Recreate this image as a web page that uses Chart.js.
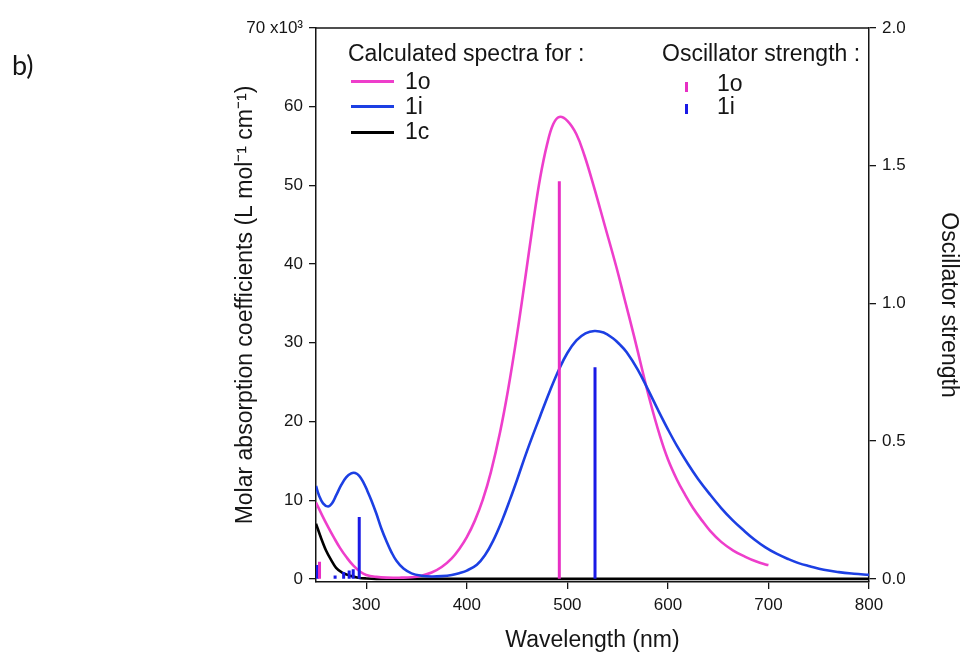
<!DOCTYPE html>
<html>
<head>
<meta charset="utf-8">
<script src="https://cdn.jsdelivr.net/npm/chart.js@4.4.0/dist/chart.umd.min.js"></script>
<style>
  body { margin: 0; background: #fff; font-family: 'Liberation Sans', Arial, sans-serif; }
  #wrap { position: relative; width: 964px; height: 655px; }
  .lbl { position: absolute; font-size: 23px; line-height: 23px; color: #151515; white-space: nowrap; }
  .swatch { position: absolute; width: 43px; height: 3px; }
  .bar { position: absolute; width: 3px; height: 10px; }
</style>
</head>
<body>
<div id="wrap">
  <canvas id="grafico" width="964" height="655"></canvas>

  <div class="lbl" style="left:12px;top:51px;font-family:Lato,sans-serif;font-size:27px;line-height:27px;">b)</div>

  <div class="lbl" style="left:348px;top:42px;">Calculated spectra for :</div>
  <div class="swatch" style="left:351px;top:80px;background:#ee3ecb;"></div>
  <div class="lbl" style="left:405px;top:70px;">1o</div>
  <div class="swatch" style="left:351px;top:105px;background:#1c3fe3;"></div>
  <div class="lbl" style="left:405px;top:95px;">1i</div>
  <div class="swatch" style="left:351px;top:131px;background:#000;"></div>
  <div class="lbl" style="left:405px;top:120px;">1c</div>

  <div class="lbl" style="left:662px;top:42px;">Oscillator strength :</div>
  <div class="bar" style="left:685px;top:82px;background:#e72fc4;"></div>
  <div class="lbl" style="left:717px;top:72px;">1o</div>
  <div class="bar" style="left:685px;top:104px;background:#1a1ae6;"></div>
  <div class="lbl" style="left:717px;top:94.5px;">1i</div>
</div>

<script>
// calculated spectra, wavelength in nm, epsilon in 10^3 L mol-1 cm-1
const wl1o = [250, 256, 262, 268, 274, 280, 287, 294, 300, 310, 320, 335, 345, 355, 365, 375, 385, 393, 400, 408,
              416, 424, 433, 441, 450, 458, 466, 473, 480, 486, 492, 500, 509, 517, 526, 537, 549, 557, 566, 574,
              582, 592, 600, 609, 617, 625, 634, 642, 653, 665, 677, 688, 698, 700];
const eps1o = [9.7, 8.1, 6.6, 5.2, 3.9, 2.8, 1.7, 0.9, 0.5, 0.25, 0.15, 0.15, 0.2, 0.4, 0.8, 1.5, 2.6, 3.9, 5.3, 7.4,
               10.1, 13.6, 18.6, 24.0, 31.1, 38.1, 45.3, 51.0, 55.3, 57.8, 58.7, 58.2, 56.5, 53.8, 50.0, 45.0, 39.5, 35.5, 31.0, 26.8,
               22.7, 18.2, 15.2, 12.6, 10.7, 9.0, 7.4, 6.1, 4.7, 3.6, 2.8, 2.2, 1.8, 1.75];

const wl1i = [250, 253, 257, 262, 266, 270, 275, 280, 285, 289, 293, 297, 301, 305, 310, 315, 320, 325, 330, 337,
              345, 355, 365, 375, 385, 393, 400, 410, 418, 426, 435, 443, 450, 460, 473, 483, 492, 500, 509, 518,
              527, 536, 545, 552, 559, 570, 580, 590, 600, 609, 620, 630, 642, 653, 664, 675, 686, 697, 708, 720,
              730, 741, 755, 770, 785, 800];
const eps1i = [11.8, 10.6, 9.6, 9.2, 9.6, 10.6, 11.9, 12.9, 13.4, 13.45, 13.1, 12.3, 11.2, 10.0, 8.3, 6.4, 4.8, 3.4, 2.3, 1.3,
               0.7, 0.4, 0.3, 0.35, 0.5, 0.75, 1.05, 1.8, 3.0, 4.8, 7.4, 10.1, 12.6, 16.3, 20.7, 24.0, 26.7, 28.7, 30.3, 31.2,
               31.5, 31.3, 30.6, 29.8, 28.8, 26.6, 24.1, 21.5, 19.0, 16.9, 14.6, 12.7, 10.7, 9.0, 7.5, 6.2, 5.0, 4.0, 3.2, 2.5,
               2.0, 1.6, 1.15, 0.85, 0.65, 0.5];

const wl1c = [250, 255, 260, 265, 270, 276, 284, 292, 300, 310, 800];
const eps1c = [7.0, 5.2, 3.6, 2.4, 1.4, 0.8, 0.4, 0.15, 0.05, 0, 0];

// oscillator strengths (sticks)
const stickWl1o = [253.5, 492];
const stickF1o = [0.062, 1.444];
const stickWl1i = [251.5, 269, 277.5, 283, 287, 293, 527.5];
const stickF1i = [0.05, 0.012, 0.025, 0.03, 0.035, 0.225, 0.768];

// tick labels
const xTicks = [300, 400, 500, 600, 700, 800];
const yTicks = [0, 10, 20, 30, 40, 50, 60, 70];
const y2Ticks = [0, 0.5, 1.0, 1.5, 2.0];

const pink = '#ee3ecb';
const blue = '#1c3fe3';
const ink = '#151515';

const toXY = (xs, ys) => xs.map((x, i) => ({ x: x, y: ys[i] }));
const toSticks = (xs, fs) => xs.flatMap((x, i) => [{ x: x, y: 0 }, { x: x, y: fs[i] }, { x: x, y: null }]);

const curva = (data, color, order, mode) => ({
    data: data, yAxisID: 'y', borderColor: color, borderWidth: 2.6,
    pointRadius: 0, tension: 0.4, cubicInterpolationMode: mode, fill: false, order: order
});
const palito = (data, color) => ({
    data: data, yAxisID: 'y2', borderColor: color, borderWidth: 3,
    pointRadius: 0, tension: 0, spanGaps: false, borderCapStyle: 'butt', fill: false, order: 0
});

const quadro = {
    id: 'quadro',
    afterDraw(chart) {
        const { ctx, chartArea } = chart;
        ctx.save();
        ctx.strokeStyle = ink;
        ctx.lineWidth = 1.5;
        ctx.beginPath();
        ctx.moveTo(chartArea.left, chartArea.top);
        ctx.lineTo(chartArea.right, chartArea.top);
        ctx.stroke();
        ctx.restore();
    }
};

const tickFont = { family: "'Liberation Sans', Arial, sans-serif", size: 17 };
const titleFont = { family: "'Liberation Sans', Arial, sans-serif", size: 23 };

new Chart(document.getElementById('grafico').getContext('2d'), {
    type: 'line',
    data: {
        datasets: [
            palito(toSticks(stickWl1o, stickF1o), '#e72fc4'),
            palito(toSticks(stickWl1i, stickF1i), '#1a1ae6'),
            curva(toXY(wl1c, eps1c), '#000', 3, 'monotone'),
            curva(toXY(wl1o, eps1o), pink, 2, 'default'),
            curva(toXY(wl1i, eps1i), blue, 1, 'default')
        ]
    },
    options: {
        responsive: false,
        animation: false,
        layout: { padding: { left: 228, top: 28, right: 0, bottom: 0 } },
        plugins: { legend: { display: false }, tooltip: { enabled: false } },
        scales: {
            x: {
                type: 'linear', position: 'bottom', min: 250, max: 800,
                afterBuildTicks: s => { s.ticks = xTicks.map(v => ({ value: v })); },
                afterFit: s => { s.height = 73; },
                ticks: { font: tickFont, color: ink, padding: 6, maxRotation: 0, callback: v => String(v) },
                grid: { drawOnChartArea: false, tickLength: 7, color: ink, lineWidth: 1.3 },
                border: { color: ink, width: 1.5 },
                title: { display: true, text: 'Wavelength (nm)', font: titleFont, color: ink, padding: { top: 0, bottom: 1 } }
            },
            y: {
                type: 'linear', position: 'left', min: -0.4, max: 70,
                afterBuildTicks: s => { s.ticks = yTicks.map(v => ({ value: v })); },
                afterFit: s => { s.width = 88; },
                ticks: { font: tickFont, color: ink, padding: 6, callback: v => v === 70 ? '70 x10³' : String(v) },
                grid: { drawOnChartArea: false, tickLength: 7, color: ink, lineWidth: 1.3 },
                border: { color: ink, width: 1.5 },
                title: { display: true, text: 'Molar absorption coefficients (L mol⁻¹ cm⁻¹)', font: titleFont, color: ink, padding: { top: 4, bottom: 0 } }
            },
            y2: {
                type: 'linear', position: 'right', min: -0.4 / 70 * 2, max: 2,
                afterBuildTicks: s => { s.ticks = y2Ticks.map(v => ({ value: v })); },
                afterFit: s => { s.width = 95; },
                ticks: { font: tickFont, color: ink, padding: 6, callback: v => v.toFixed(1) },
                grid: { drawOnChartArea: false, tickLength: 7, color: ink, lineWidth: 1.3 },
                border: { color: ink, width: 1.5 },
                title: { display: true, text: 'Oscillator strength', font: titleFont, color: ink, padding: { top: 2, bottom: 0 } }
            }
        }
    },
    plugins: [quadro]
});
</script>
</body>
</html>
